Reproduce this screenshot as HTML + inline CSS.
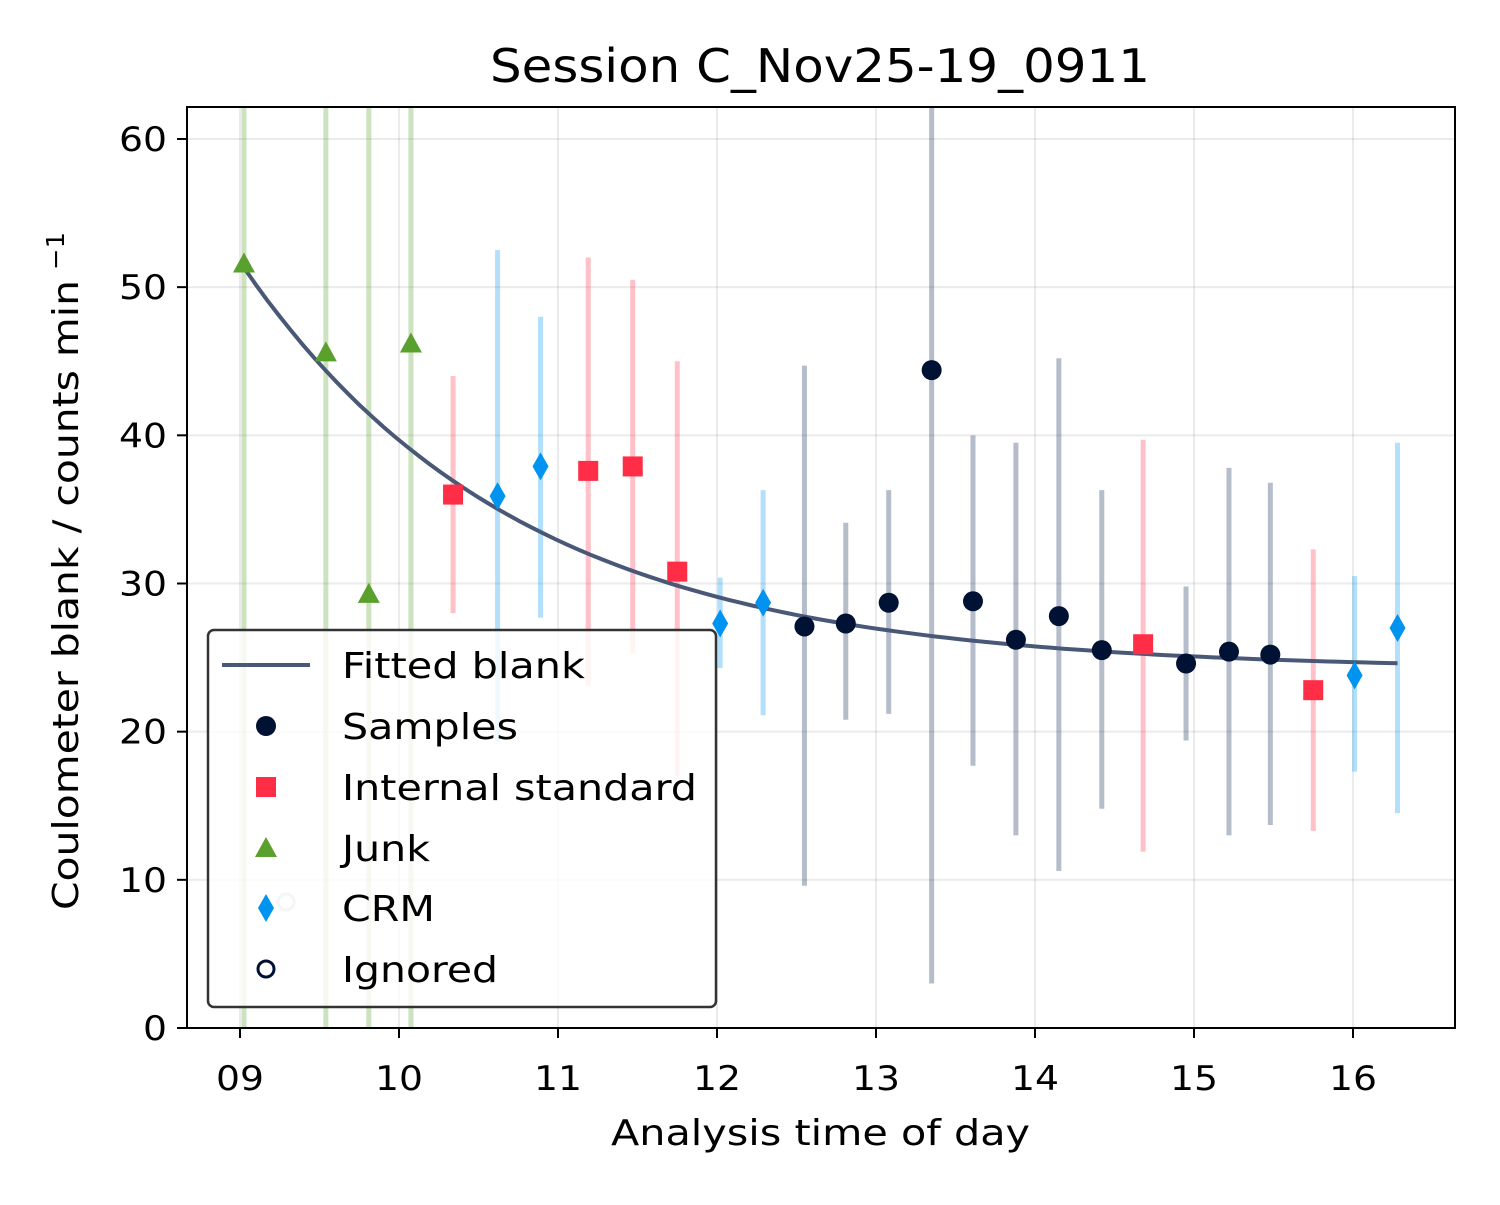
<!DOCTYPE html>
<html><head><meta charset="utf-8"><style>
html,body{margin:0;padding:0;background:#fff;}
svg text{font-family:"DejaVu Sans","Liberation Sans",sans-serif;fill:#000;}
</style></head><body>
<svg id="chart" width="1500" height="1200" xmlns="http://www.w3.org/2000/svg">
<defs><clipPath id="plotclip"><rect x="187" y="107" width="1268" height="921"/></clipPath></defs>
<text x="490" y="82" font-size="46" textLength="660" lengthAdjust="spacingAndGlyphs">Session C_Nov25-19_0911</text>
<g id="grid"></g>
<g id="bars" clip-path="url(#plotclip)"></g>
<g id="fit" clip-path="url(#plotclip)"></g>
<g id="marks" clip-path="url(#plotclip)"></g>
<rect x="187" y="107" width="1268" height="921" fill="none" stroke="#000" stroke-width="2"/>
<g id="axes"></g>
<text x="611" y="1145" font-size="36" textLength="419" lengthAdjust="spacingAndGlyphs">Analysis time of day</text>
<text transform="translate(78,910) rotate(-90)" font-size="36" x="0" y="0" textLength="630" lengthAdjust="spacingAndGlyphs">Coulometer blank / counts min</text>
<text transform="translate(64,270) rotate(-90)" font-size="25" x="0" y="0" textLength="38" lengthAdjust="spacingAndGlyphs">−1</text>
<g id="legend"></g>
</svg>
<script>
const xTicks=[9,10,11,12,13,14,15,16];
const xTickLabels=["09","10","11","12","13","14","15","16"];
const yTicks=[0,10,20,30,40,50,60];
const junkT=[9.025,9.54,9.81,10.075];
const junkV=[51.6,45.6,29.3,46.2];
const ignoredT=[9.29];
const ignoredV=[8.5];
const stdT=[10.34,11.19,11.47,11.75,14.68,15.75];
const stdV=[36.0,37.6,37.9,30.8,25.9,22.8];
const stdHi=[44,52,50.5,45,39.7,32.3];
const stdLo=[28,23.1,25.3,17,11.9,13.3];
const crmT=[10.62,10.89,12.02,12.29,16.01,16.28];
const crmV=[35.9,37.9,27.3,28.7,23.8,27.0];
const crmHi=[52.5,48,30.4,36.3,30.5,39.5];
const crmLo=[19.3,27.7,24.3,21.1,17.3,14.5];
const sampT=[12.55,12.81,13.08,13.35,13.61,13.88,14.15,14.42,14.95,15.22,15.48];
const sampV=[27.1,27.3,28.7,44.4,28.8,26.2,27.8,25.5,24.6,25.4,25.2];
const sampHi=[44.7,34.1,36.3,70,40,39.5,45.2,36.3,29.8,37.8,36.8];
const sampLo=[9.6,20.8,21.2,3.0,17.7,13.0,10.6,14.8,19.4,13.0,13.7];
const fitParams=[24.2,27.5,0.575,9.0];
const fitRange=[9.03,16.28];

const NS="http://www.w3.org/2000/svg";
const X=t=>240+(t-9)*159.0;
const Y=v=>1028-v*14.817;
function mk(tag,attrs,parent){const e=document.createElementNS(NS,tag);for(const k in attrs)e.setAttribute(k,attrs[k]);document.getElementById(parent).appendChild(e);return e;}

xTicks.forEach((t,i)=>{
 let g=mk('line',{x1:X(t),x2:X(t),y1:107,y2:1028,stroke:'#000','stroke-opacity':0.08,'stroke-width':2},'grid');
 
 let l=mk('line',{x1:X(t),x2:X(t),y1:1028,y2:1038,stroke:'#000','stroke-width':2},'axes');
 
 let tx=mk('text',{x:X(t)-24,y:1090,'font-size':34,textLength:48,lengthAdjust:'spacingAndGlyphs'},'axes');tx.textContent=xTickLabels[i];
 
});
yTicks.forEach(v=>{
 let g=mk('line',{x1:187,x2:1455,y1:Y(v),y2:Y(v),stroke:'#000','stroke-opacity':0.08,'stroke-width':2},'grid');
 
 let l=mk('line',{x1:177,x2:187,y1:Y(v),y2:Y(v),stroke:'#000','stroke-width':2},'axes');
 
 const s=String(v);const w=s.length*24;
 let tx=mk('text',{x:167-w,y:Y(v)+12,'font-size':34,textLength:w,lengthAdjust:'spacingAndGlyphs'},'axes');tx.textContent=s;
 
});
function bars(T,Hi,Lo,color,op){T.forEach((t,i)=>{
 let b=mk('line',{x1:X(t),x2:X(t),y1:Y(Hi[i]),y2:Y(Lo[i]),stroke:color,'stroke-opacity':op,'stroke-width':5},'bars');
 });}
junkT.forEach(t=>{let b=mk('line',{x1:X(t),x2:X(t),y1:0,y2:1200,stroke:'#5aa02c','stroke-opacity':0.3,'stroke-width':5},'bars');
 });
bars(stdT,stdHi,stdLo,'#ff2d46',0.3);
bars(crmT,crmHi,crmLo,'#0094f0',0.3);
bars(sampT,sampHi,sampLo,'#2a3f66',0.35);

let pts=[];for(let i=0;i<=100;i++){const t=fitRange[0]+(fitRange[1]-fitRange[0])*i/100;const v=fitParams[0]+fitParams[1]*Math.exp(-fitParams[2]*(t-fitParams[3]));pts.push(X(t).toFixed(1)+','+Y(v).toFixed(1));}
let fl=mk('polyline',{points:pts.join(' '),fill:'none',stroke:'#4a5878','stroke-width':4},'fit');


function circ(x,y,p,name){let c=mk('circle',{cx:x,cy:y,r:10,fill:'#001233'},p);}
function sq(x,y,p,name){let c=mk('rect',{x:x-10,y:y-10,width:20,height:20,fill:'#ff2d46'},p);}
function tri(x,y,p,name){let c=mk('polygon',{points:`${x},${y-11} ${x-11},${y+9} ${x+11},${y+9}`,fill:'#5aa02c'},p);}
function dia(x,y,p,name){let c=mk('polygon',{points:`${x},${y-14} ${x+8},${y} ${x},${y+14} ${x-8},${y}`,fill:'#0094f0'},p);}
function ring(x,y,p,name,col){let c=mk('circle',{cx:x,cy:y,r:8,fill:'none',stroke:col,'stroke-width':3},p);}
junkT.forEach((t,i)=>tri(X(t),Y(junkV[i]),'marks','junk-point'));
ignoredT.forEach((t,i)=>ring(X(t),Y(ignoredV[i]),'marks','ignored-point','#c8ccd6'));
stdT.forEach((t,i)=>sq(X(t),Y(stdV[i]),'marks','internal-standard-point'));
crmT.forEach((t,i)=>dia(X(t),Y(crmV[i]),'marks','crm-point'));
sampT.forEach((t,i)=>circ(X(t),Y(sampV[i]),'marks','sample-point'));

let lb=mk('rect',{x:208,y:630,width:508,height:377,rx:6,fill:'#fff','fill-opacity':0.8,stroke:'#333','stroke-width':2.5},'legend');

const legendLabels=["Fitted blank","Samples","Internal standard","Junk","CRM","Ignored"];
const legendW=[243,176,355,88,93,156];
const ly=[665,726,787,848,908,969];
legendLabels.forEach((s,i)=>{let t=mk('text',{x:342,y:ly[i]+13,'font-size':36,textLength:legendW[i],lengthAdjust:'spacingAndGlyphs'},'legend');t.textContent=s;
 });
let ll=mk('line',{x1:222,x2:310,y1:ly[0],y2:ly[0],stroke:'#4a5878','stroke-width':4},'legend');

circ(266,ly[1],'legend','legend-sample-marker');
sq(266,ly[2],'legend','legend-standard-marker');
tri(266,ly[3],'legend','legend-junk-marker');
dia(266,ly[4],'legend','legend-crm-marker');
ring(266,ly[5],'legend','legend-ignored-marker','#001233');
</script>
</body></html>
